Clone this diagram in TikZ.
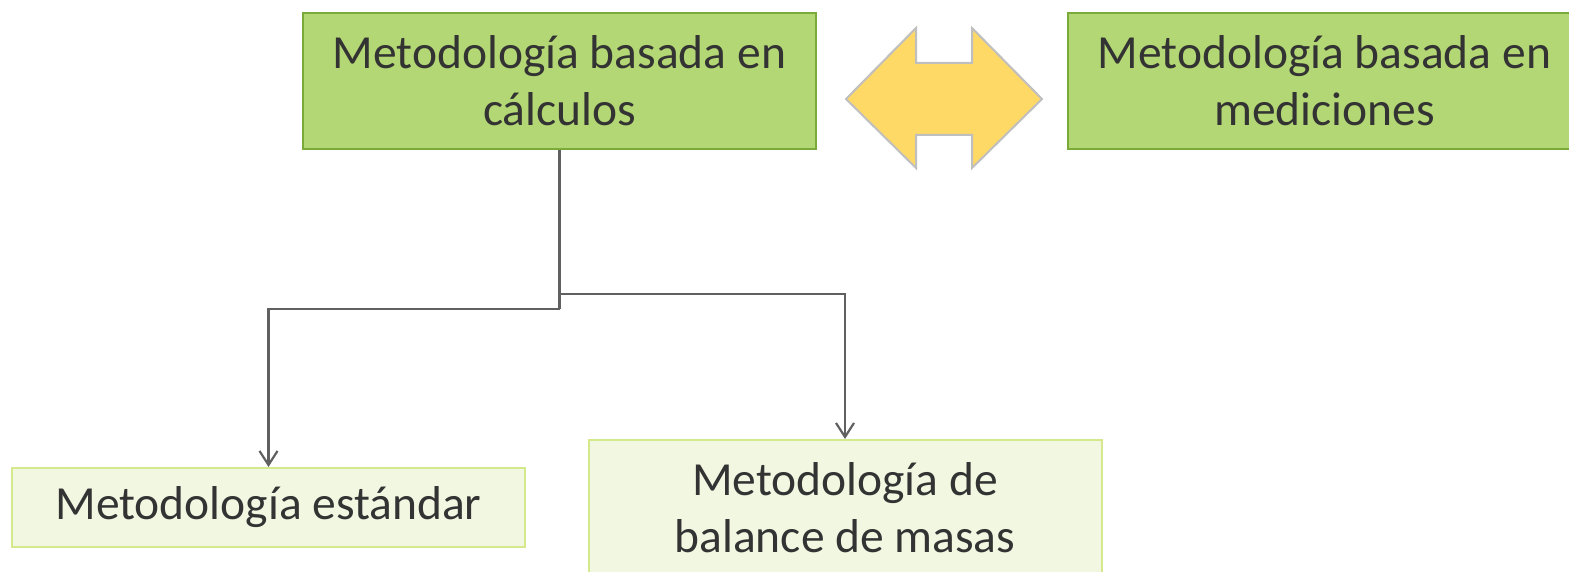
\documentclass[tikz,border=0pt]{standalone}
\usepackage{fontspec}
\setmainfont{Carlito}
\usepackage{tikz}
\usetikzlibrary{positioning}
\usetikzlibrary{arrows.meta}
\definecolor{darkfill}{RGB}{179,215,116}
\definecolor{darkline}{RGB}{122,170,57}
\definecolor{lightfill}{RGB}{242,247,225}
\definecolor{lightline}{RGB}{212,232,140}
\definecolor{textgray}{RGB}{51,51,51}
\definecolor{linegray}{RGB}{96,96,96}
\definecolor{arrowfill}{RGB}{255,217,102}
\definecolor{arrowline}{RGB}{191,191,191}
\tikzset{
  mainbox/.style={draw=darkline, fill=darkfill, line width=1pt, text=textgray,
    minimum width=256.5pt, minimum height=68pt, align=center, inner sep=0pt,
    font=\fontsize{23.75}{28.5}\selectfont},
  subbox/.style={draw=lightline, fill=lightfill, line width=1pt, text=textgray,
    minimum width=256.5pt, align=center, inner sep=0pt,
    font=\fontsize{23.75}{28.5}\selectfont},
  conn/.style={draw=linegray, line width=1.1pt, -{Straight Barb[length=7pt,width=9pt,line width=1.1pt]}}
}

\begin{document}
\begin{tikzpicture}[x=0.5pt, y=-0.5pt]
    \useasboundingbox (0,0) rectangle (1569,572);
    \clip (0,0) rectangle (1569,572);
    \node[mainbox] (calc) at (559.5,81) {Metodología basada en\\cálculos};
    \node[mainbox] (med) at (1324.5,81) {Metodología basada en\\mediciones};
    \node[subbox, minimum height=39.5pt] (std) at (268.5,507.5) {Metodología estándar};
    \node[subbox, minimum height=68pt] (bal) at (845,508) {Metodología de\\balance de masas};
    % doble flecha entre los dos enfoques
    \filldraw[fill=arrowfill, draw=arrowline, line width=1pt]
        (846,99) -- (916,28) -- (916,63) -- (972,63) -- (972,28) -- (1042,99)
        -- (972,168) -- (972,135) -- (916,135) -- (916,168) -- cycle;
    \coordinate (split) at (559.5,309);
    \coordinate (splitr) at (559.5,294);
    \draw[linegray, line width=1.1pt] (calc.south) -- (split);
    \draw[conn] (split) -| (std.north);
    \draw[conn] (splitr) -| (bal.north);
\end{tikzpicture}
\end{document}
